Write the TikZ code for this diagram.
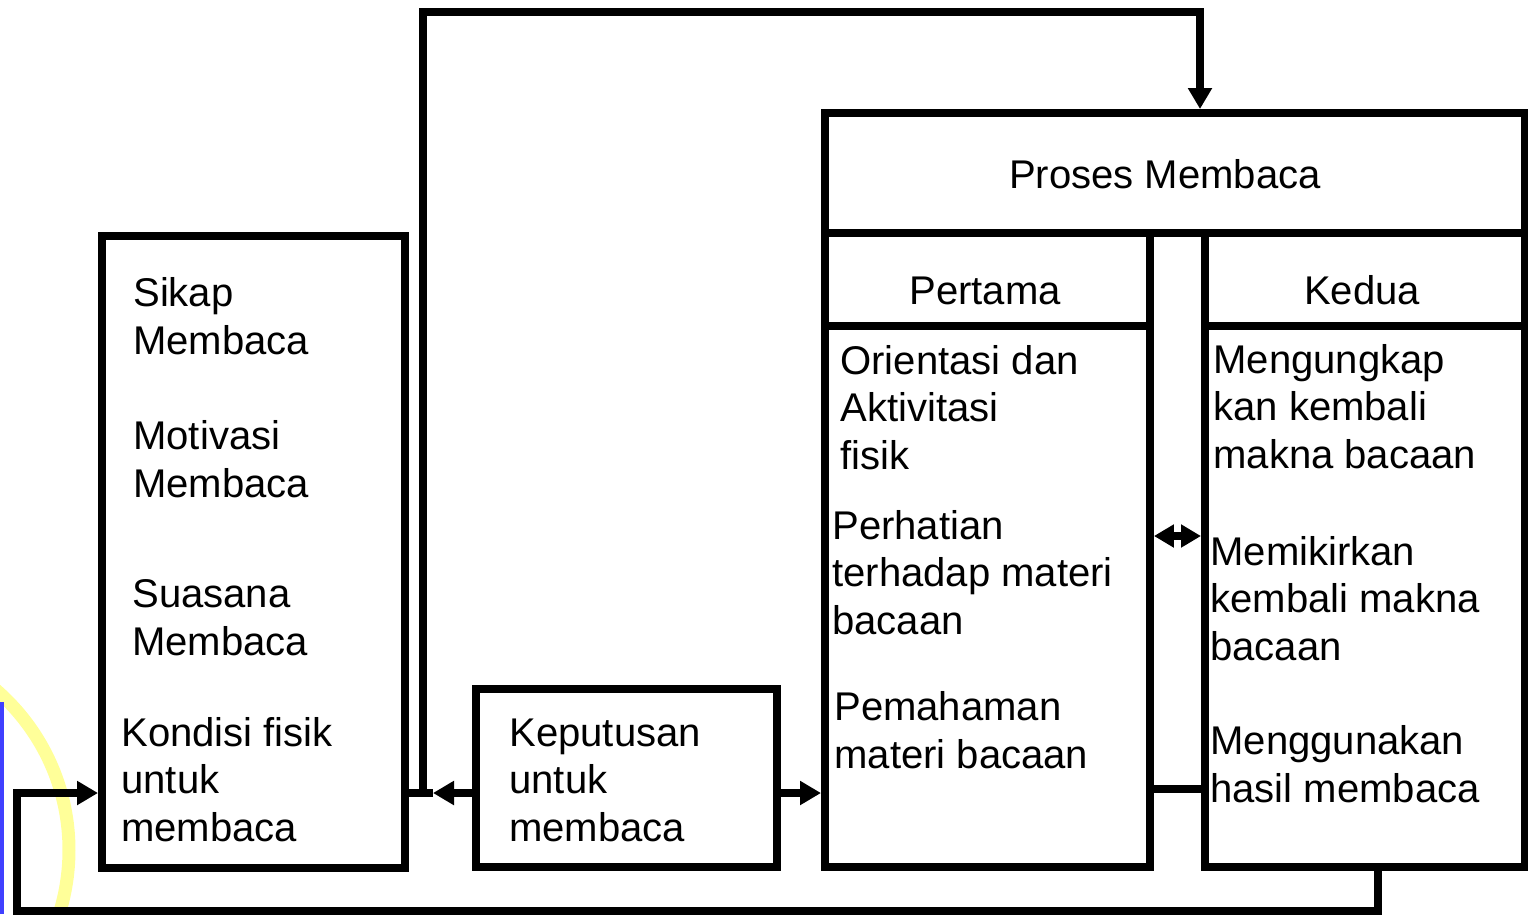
\documentclass[tikz,border=0pt]{standalone}
\usepackage{fontspec}
\setmainfont{Liberation Sans}
\usepackage{xcolor}
\usepackage{tikz}
\usetikzlibrary{arrows.meta,positioning,calc}

\definecolor{slideblue}{HTML}{4040FF}
\definecolor{slideyellow}{HTML}{FFFF99}

\begin{document}
\begin{tikzpicture}[
  x=0.02cm, y=-0.02cm,
  box/.style={draw, line width=0.16cm, inner sep=0pt, anchor=north west},
  txt/.style={font=\fontsize{22.8}{27}\selectfont, inner sep=0pt, align=left, anchor=base west},
  head/.style={font=\fontsize{22.8}{27}\selectfont, inner sep=0pt, anchor=base},
  line/.style={line width=0.16cm},
  arrow/.style={-{Triangle[length=0.42cm,width=0.46cm]}, line width=0.16cm},
  twoway/.style={{Triangle[length=0.4cm,width=0.44cm]}-{Triangle[length=0.4cm,width=0.44cm]}, line width=0.16cm}
]
\useasboundingbox (0,0) rectangle (1528,914);

% slide decoration at the left edge
\begin{scope}
  \clip (0,0) rectangle (1528,914);
  \draw[slideyellow, line width=0.26cm] (-143,850) circle[radius=212];
  \fill[slideblue] (0,702) rectangle (4,914);
\end{scope}

% boxes
\node[box, minimum width=6.06cm, minimum height=12.64cm] (faktor) at (98,232) {};
\node[box, minimum width=6.02cm, minimum height=3.56cm] (keputusan) at (472,685) {};
\node[box, minimum width=14cm, minimum height=2.4cm] (proses) at (821,109) {};
\node[box, minimum width=6.5cm, minimum height=12.68cm] (pertama) at (821,229) {};
\node[box, minimum width=6.4cm, minimum height=12.68cm] (kedua) at (1201,229) {};

% texts (anchored at the baseline of the last line)
\node[txt] (sikap) at (133,354) {Sikap\\Membaca};
\node[txt] (motivasi) at (133,497) {Motivasi\\Membaca};
\node[txt] (suasana) at (132,655) {Suasana\\Membaca};
\node[txt] (kondisi) at (121,841) {Kondisi fisik\\untuk\\membaca};
\node[txt] (putus) at (509,841) {Keputusan\\untuk\\membaca};
\node[head] (prosestxt) at (1165,188) {Proses Membaca};
\node[head] (pertamatxt) at (985,304) {Pertama};
\node[head] (keduatxt) at (1362,304) {Kedua};
\node[txt] (orientasi) at (840,469) {Orientasi dan\\Aktivitasi\\fisik};
\node[txt] (perhatian) at (832,634) {Perhatian\\terhadap materi\\bacaan};
\node[txt] (pemahaman) at (834,768) {Pemahaman\\materi bacaan};
\node[txt] (mengungkap) at (1213,468) {Mengungkap\\kan kembali\\makna bacaan};
\node[txt] (memikirkan) at (1210,660) {Memikirkan\\kembali makna\\bacaan};
\node[txt] (menggunakan) at (1210,802) {Menggunakan\\hasil membaca};

% points for the connectors
\coordinate (div) at (0,326);
\coordinate (tipL) at (433,793);
\coordinate (loopup) at (423,793);
\coordinate (looptop) at (1200,12);
\coordinate (both) at (0,536);
\coordinate (link) at (0,789);
\coordinate (fbk) at (1378,911);
\coordinate (fbl) at (17,793);

% header lines of the two columns
\draw[line] (pertama.west |- div) -- (pertama.east |- div);
\draw[line] (kedua.west |- div) -- (kedua.east |- div);

% connectors
\draw[arrow] (keputusan.west |- tipL) -- (tipL);
\draw[line] (tipL) -- (faktor.east |- tipL);
\draw[arrow] (loopup) |- (looptop) -- (looptop |- proses.north);
\draw[arrow] (keputusan.east |- tipL) -- (pertama.west |- tipL);
\draw[twoway] (pertama.east |- both) -- (kedua.west |- both);
\draw[line] (pertama.east |- link) -- (kedua.west |- link);
\draw[arrow] (kedua.south -| fbk) -- (fbk) -| (fbl) -- (faktor.west |- fbl);
\end{tikzpicture}
\end{document}
